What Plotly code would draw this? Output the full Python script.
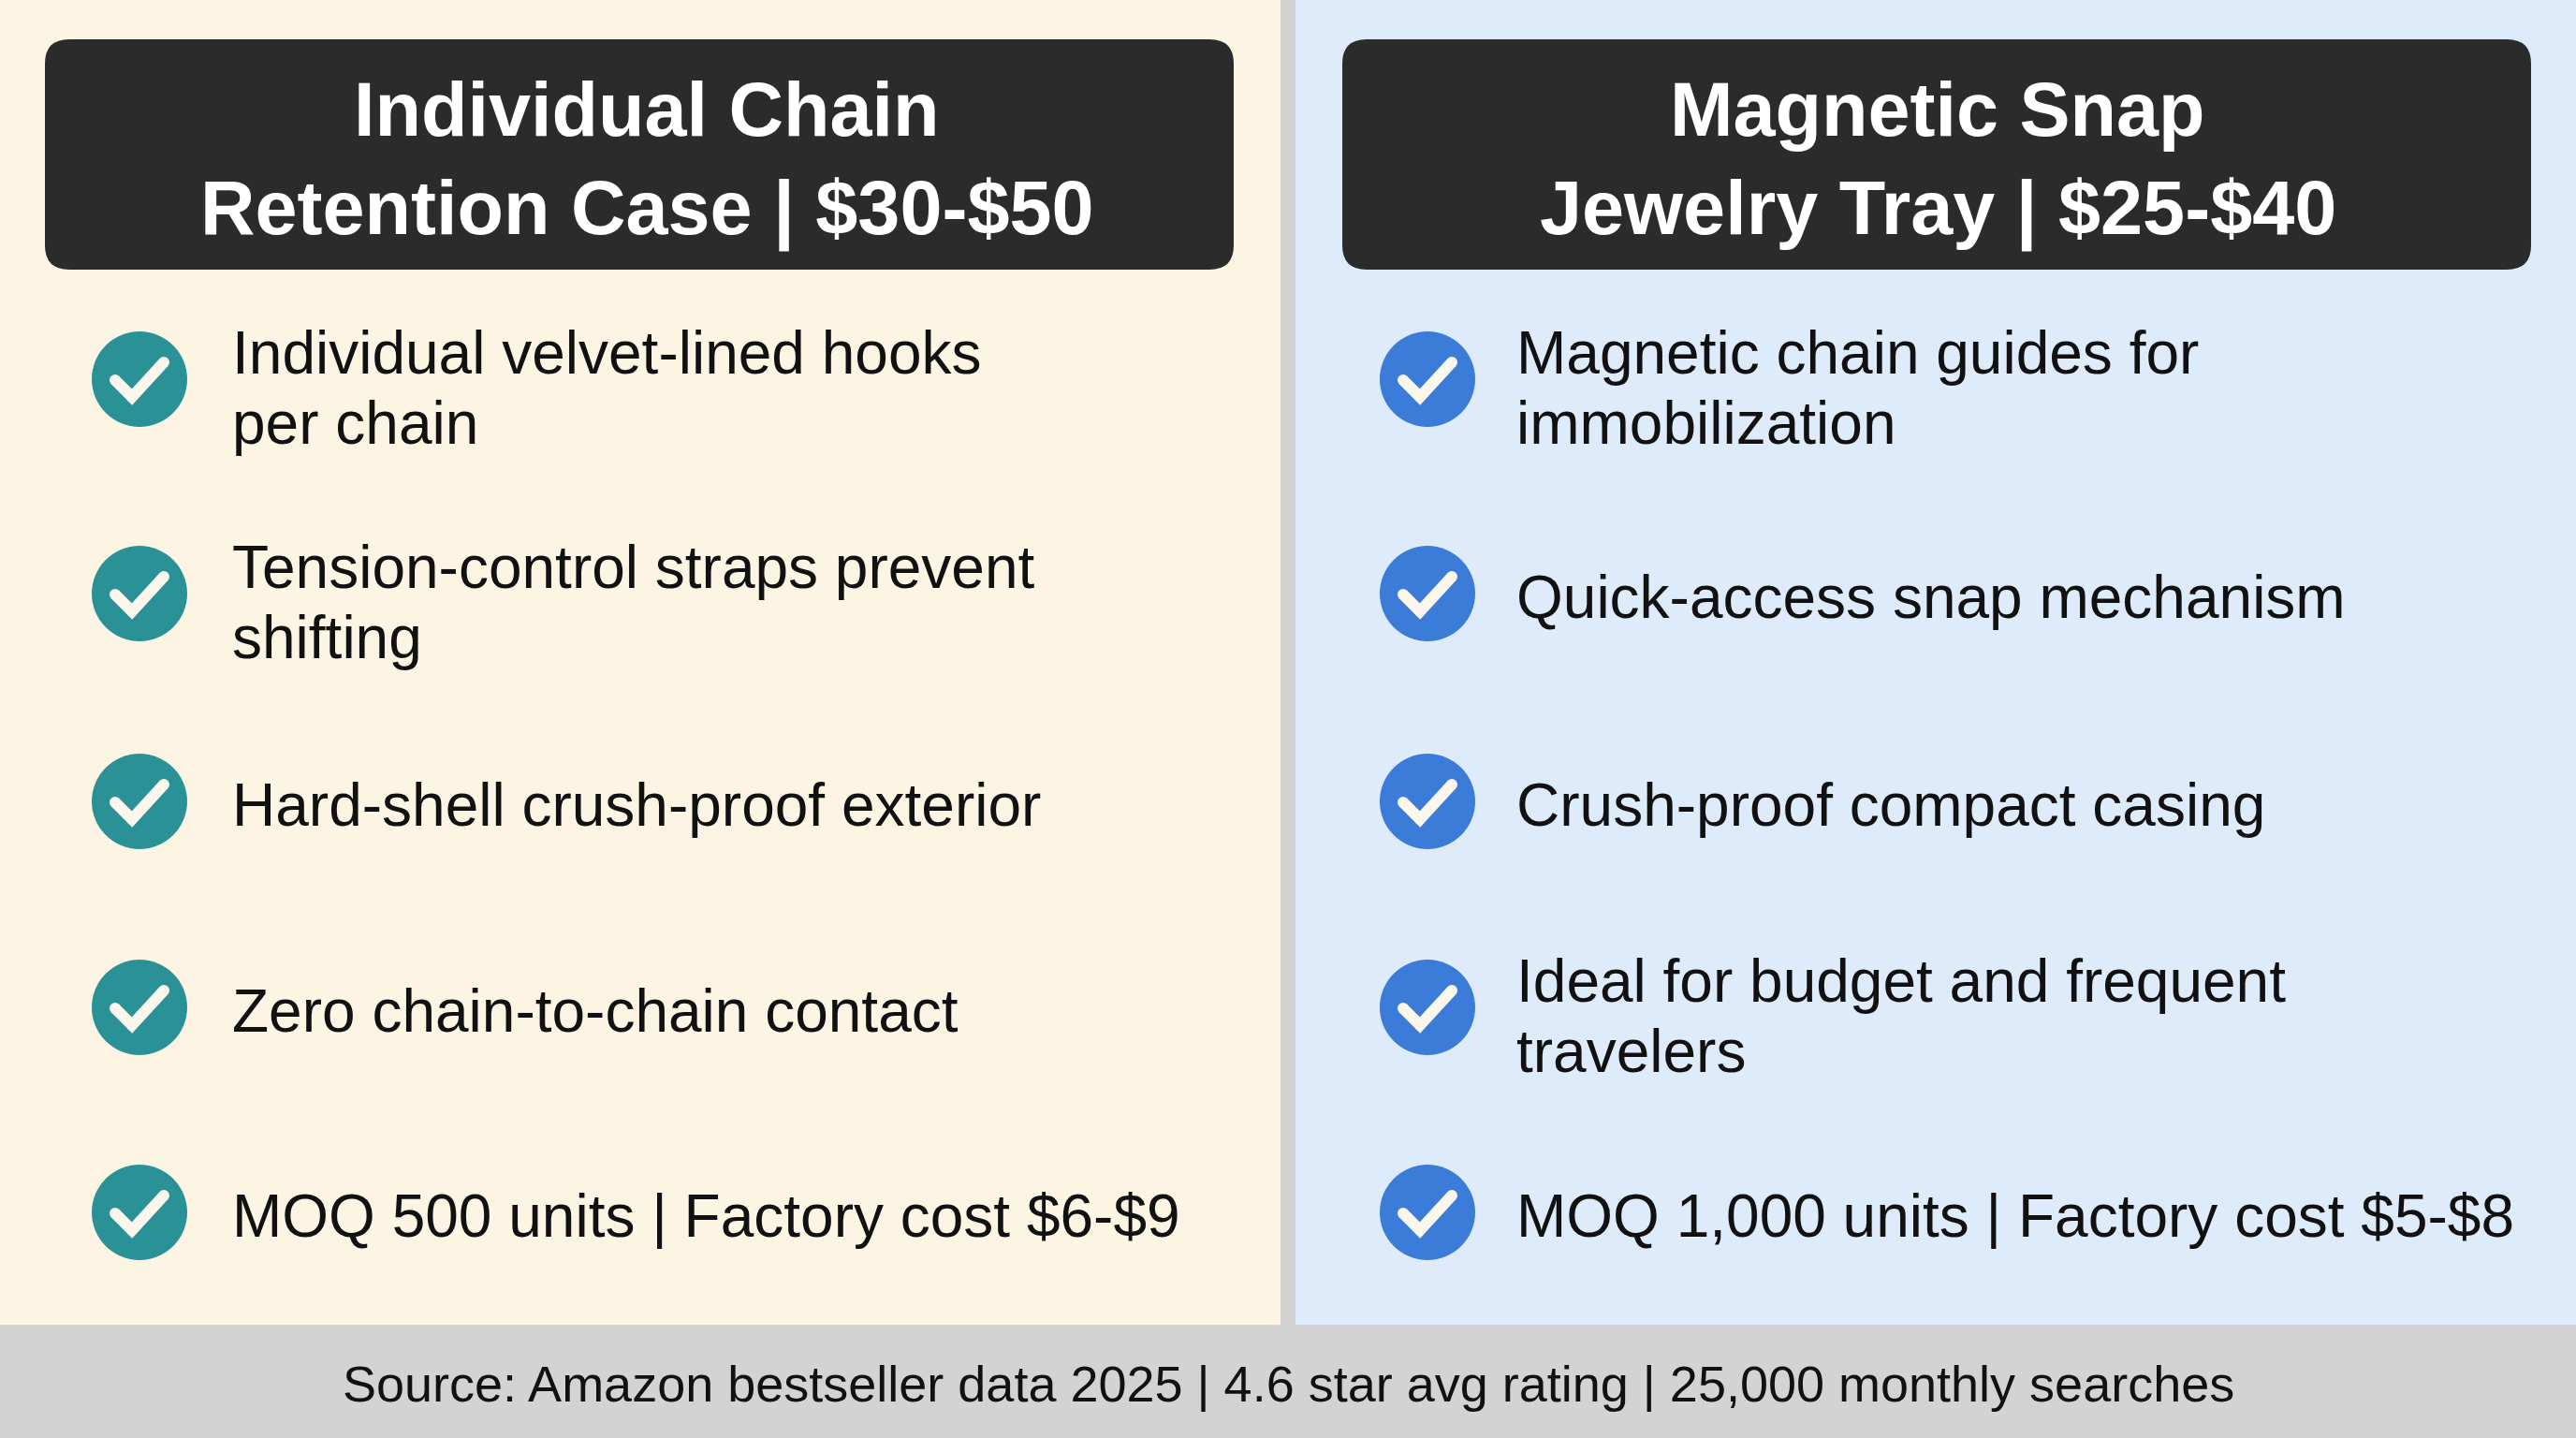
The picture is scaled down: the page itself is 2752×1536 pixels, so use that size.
import plotly.graph_objects as go

W, H = 2752, 1536

# ---- content ----
left_title = ["Individual Chain", "Retention Case | $30-$50"]
right_title = ["Magnetic Snap", "Jewelry Tray | $25-$40"]
left_items = [
    ["Individual velvet-lined hooks", "per chain"],
    ["Tension-control straps prevent", "shifting"],
    ["Hard-shell crush-proof exterior"],
    ["Zero chain-to-chain contact"],
    ["MOQ 500 units | Factory cost $6-$9"],
]
right_items = [
    ["Magnetic chain guides for", "immobilization"],
    ["Quick-access snap mechanism"],
    ["Crush-proof compact casing"],
    ["Ideal for budget and frequent", "travelers"],
    ["MOQ 1,000 units | Factory cost $5-$8"],
]
footer_text = "Source: Amazon bestseller data 2025 | 4.6 star avg rating | 25,000 monthly searches"

# ---- style / layout ----
CREAM = "#FDF5E4"
BLUE_BG = "#DEEBFB"
DIVIDER = "#D2D2D2"
FOOTER = "#D3D3D3"
HEADER = "#2B2B2B"
TEAL = "#2A9196"
BLUE = "#3B7CD8"
CHECK = "#FBF7EC"
FONT = "Liberation Sans, Arial, sans-serif"
ROW_Y = [405, 634, 856, 1076, 1295]

fig = go.Figure()

def rounded_rect(x0, y0, x1, y1, r):
    return (f"M {x0+r},{y0} L {x1-r},{y0} Q {x1},{y0} {x1},{y0+r} "
            f"L {x1},{y1-r} Q {x1},{y1} {x1-r},{y1} L {x0+r},{y1} "
            f"Q {x0},{y1} {x0},{y1-r} L {x0},{y0+r} Q {x0},{y0} {x0+r},{y0} Z")

shapes = [
    dict(type="rect", x0=0, x1=1368, y0=0, y1=1415, fillcolor=CREAM, line_width=0, layer="below"),
    dict(type="rect", x0=1368, x1=1384, y0=0, y1=1415, fillcolor=DIVIDER, line_width=0, layer="below"),
    dict(type="rect", x0=1384, x1=W, y0=0, y1=1415, fillcolor=BLUE_BG, line_width=0, layer="below"),
    dict(type="rect", x0=0, x1=W, y0=1415, y1=H, fillcolor=FOOTER, line_width=0, layer="below"),
    dict(type="path", path=rounded_rect(48, 42, 1318, 288, 26), fillcolor=HEADER, line_width=0, layer="below"),
    dict(type="path", path=rounded_rect(1434, 42, 2704, 288, 26), fillcolor=HEADER, line_width=0, layer="below"),
]

annotations = []

def add_panel(title, items, title_cx, circ_x, text_x, color):
    for i, line in enumerate(title):
        annotations.append(dict(x=title_cx, y=117 + i * 106, text=f"<b>{line}</b>", showarrow=False,
                                xanchor="center", yanchor="middle",
                                font=dict(family=FONT, size=81, color="white")))
    rows = ROW_Y[:len(items)]
    fig.add_trace(go.Scatter(x=[circ_x] * len(items), y=rows, mode="markers",
                             marker=dict(size=102, color=color, line_width=0),
                             hoverinfo="skip", showlegend=False))
    cx, cy, ex, ey = [], [], [], []
    for r in rows:
        pts_x = [circ_x - 26, circ_x - 8, circ_x + 26]
        pts_y = [r + 1, r + 19, r - 18]
        cx += pts_x + [None]
        cy += pts_y + [None]
        ex += pts_x
        ey += pts_y
    fig.add_trace(go.Scatter(x=cx, y=cy, mode="lines", line=dict(color=CHECK, width=12),
                             hoverinfo="skip", showlegend=False))
    fig.add_trace(go.Scatter(x=ex, y=ey, mode="markers", marker=dict(size=12, color=CHECK),
                             hoverinfo="skip", showlegend=False))
    for r, lines in zip(rows, items):
        n = len(lines)
        off = 4 if n == 1 else 9
        for j, line in enumerate(lines):
            y = r + off + (j - (n - 1) / 2) * 75
            annotations.append(dict(x=text_x, y=y, text=line, showarrow=False,
                                    xanchor="left", yanchor="middle",
                                    font=dict(family=FONT, size=64, color="#111111")))

add_panel(left_title, left_items, 691, 149, 246, TEAL)
add_panel(right_title, right_items, 2070, 1525, 1618, BLUE)

annotations.append(dict(x=W / 2, y=1478, text=footer_text, showarrow=False,
                        xanchor="center", yanchor="middle",
                        font=dict(family=FONT, size=54, color="#111111")))

fig.update_layout(
    width=W, height=H,
    margin=dict(l=0, r=0, t=0, b=0),
    paper_bgcolor=CREAM, plot_bgcolor=CREAM,
    xaxis=dict(range=[0, W], visible=False, fixedrange=True),
    yaxis=dict(range=[H, 0], visible=False, fixedrange=True),
    shapes=shapes, annotations=annotations,
)

fig.write_html("out.html", config={"displayModeBar": False},
               post_script="document.body.style.margin='0';document.body.style.overflow='hidden';")
